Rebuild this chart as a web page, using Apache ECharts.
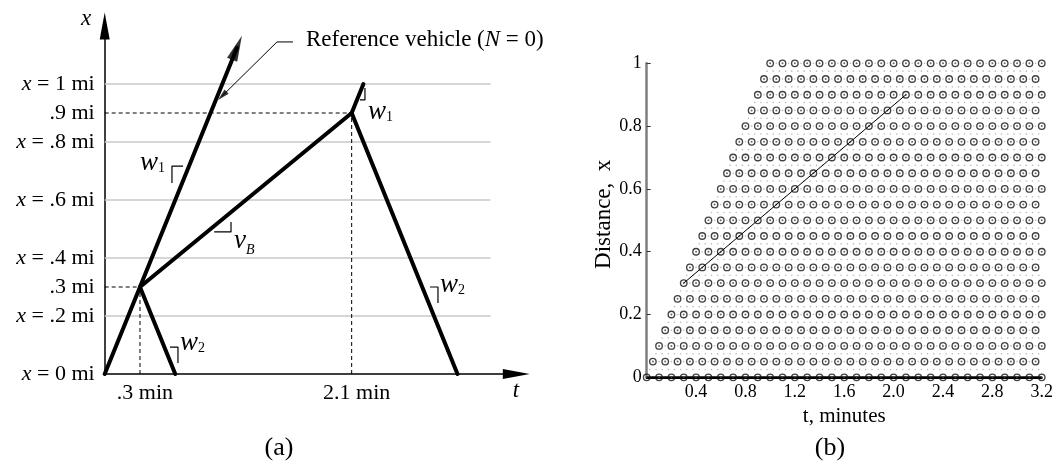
<!DOCTYPE html>
<html><head><meta charset="utf-8">
<script src="https://cdn.jsdelivr.net/npm/echarts@6/dist/echarts.min.js"></script>
<style>html,body{margin:0;padding:0;background:#fff}#c{width:1056px;height:463px}</style>
</head><body><div id="c"></div>
<script>
// ---------- Panel (a) data ----------
const aGridValues = [0.2, 0.4, 0.6, 0.8, 1.0];
const aGridEnd = 3.28;
const aYTickValues = [0, 0.2, 0.3, 0.4, 0.6, 0.8, 0.9, 1.0];
const aYTickLabels = ['x = 0 mi', 'x = .2 mi', '.3 mi', 'x = .4 mi', 'x = .6 mi', 'x = .8 mi', '.9 mi', 'x = 1 mi'];
const aXTickValues = [0.3, 2.1];
const aXTickLabels = ['.3 min', '2.1 min'];
const aRefVehicle = [[0, 0], [0.3, 0.3], [1.125, 1.125]];
const aRefArrow = [[1.125, 1.125]];
const aVB = [[0.3, 0.3], [2.1, 0.9]];
const aW1Top = [[2.1, 0.9], [2.2, 1.0]];
const aW2Right = [[2.1, 0.9], [3.0, 0]];
const aW2Left = [[0.3, 0.3], [0.6, 0]];
const aDashed = [
  [[0, 0.9], [2.1, 0.9]],
  [[2.1, 0], [2.1, 0.9]],
  [[0, 0.3], [0.3, 0.3]],
  [[0.3, 0], [0.3, 0.3]]
];
const aSlopeMarks = [
  [[0.666, 0.717], [0.572, 0.717], [0.572, 0.659]],
  [[0.931, 0.490], [1.074, 0.490], [1.074, 0.524]],
  [[0.555, 0.093], [0.623, 0.093], [0.623, 0.038]],
  [[2.213, 0.986], [2.213, 0.945], [2.171, 0.945]],
  [[2.766, 0.300], [2.834, 0.300], [2.834, 0.245]]
];
const aLeader = [[1.601, 1.145], [1.465, 1.145], [1.0, 0.959]];
const aLeaderArrow = [[1.0, 0.959]];

// ---------- Panel (b) data ----------
const bRowDistances = [0, 0.05, 0.1, 0.15, 0.2, 0.25, 0.3, 0.35, 0.4, 0.45, 0.5, 0.55, 0.6, 0.65, 0.7, 0.75, 0.8, 0.85, 0.9, 0.95, 1.0];
const bRowStart     = [0, 0.05, 0.1, 0.15, 0.2, 0.25, 0.3, 0.35, 0.4, 0.45, 0.5, 0.55, 0.6, 0.65, 0.7, 0.75, 0.8, 0.85, 0.9, 0.95, 1.0];
const bRowEnd       = [3.2, 3.15, 3.2, 3.15, 3.2, 3.15, 3.2, 3.15, 3.2, 3.15, 3.2, 3.15, 3.2, 3.15, 3.2, 3.15, 3.2, 3.15, 3.2, 3.15, 3.2];
const bTimeStep = 0.1;
const bPath = [[0.3, 0.3], [2.1, 0.9]];
const bBase = [[0, 0], [3.2, 0]];

// lattice of observation circles from the row tables
const bCircles = [];
const bRows = [];
bRowDistances.forEach((d, i) => {
  const n = Math.round((bRowEnd[i] - bRowStart[i]) / bTimeStep);
  const row = [];
  for (let k = 0; k <= n; k++) {
    const t = +(bRowStart[i] + k * bTimeStep).toFixed(3);
    row.push(t);
    bCircles.push([t, d]);
  }
  bRows.push(row);
});
// faint dotted links between neighbouring circles
const bDots = [];
bRows.forEach((row, i) => {
  const d = bRowDistances[i];
  row.forEach((t, k) => {
    if (k < row.length - 1) { bDots.push([t + 0.05, d]); }
    if (i < bRows.length - 1) {
      const up = bRows[i + 1];
      const dn = bRowDistances[i + 1] - d;
      if (up.some(u => Math.abs(u - (t + dn)) < 1e-6)) {
        bDots.push([t + dn / 2, d + dn / 2]);
      }
      if (up.some(u => Math.abs(u - (t - dn)) < 1e-6)) {
        bDots.push([t - dn / 2, d + dn / 2]);
      }
    }
  });
});

const FONT = 'Liberation Serif';
const chart = echarts.init(document.getElementById('c'), null, {renderer: 'canvas'});

function idxOf(arr, v) { return arr.findIndex(a => Math.abs(a - v) < 1e-6); }

const series = [];
aGridValues.forEach(v => series.push({
  type: 'line', xAxisIndex: 0, yAxisIndex: 0, data: [[0, v], [aGridEnd, v]],
  symbol: 'none', silent: true, z: 1, lineStyle: {color: '#c8c8c8', width: 1.5}
}));
aDashed.forEach(seg => series.push({
  type: 'line', xAxisIndex: 0, yAxisIndex: 0, data: seg, symbol: 'none', silent: true, z: 2,
  lineStyle: {color: '#000', width: 1, type: [4, 3]}
}));
[aRefVehicle, aVB, aW1Top, aW2Right, aW2Left].forEach(p => series.push({
  type: 'line', xAxisIndex: 0, yAxisIndex: 0, data: p, symbol: 'none', silent: true, z: 5,
  lineStyle: {color: '#000', width: 4, cap: 'round', join: 'round'}
}));
series.push({
  type: 'scatter', xAxisIndex: 0, yAxisIndex: 0, data: aRefArrow, symbol: 'triangle',
  symbolSize: [11, 26], symbolRotate: -22.1, itemStyle: {color: '#000'}, silent: true, z: 6
});
aSlopeMarks.forEach(p => series.push({
  type: 'line', xAxisIndex: 0, yAxisIndex: 0, data: p, symbol: 'none', silent: true, z: 4,
  lineStyle: {color: '#000', width: 1.2}
}));
series.push({
  type: 'line', xAxisIndex: 0, yAxisIndex: 0, data: aLeader, symbol: 'none', silent: true, z: 4,
  lineStyle: {color: '#000', width: 1}
});
series.push({
  type: 'scatter', xAxisIndex: 0, yAxisIndex: 0, data: aLeaderArrow, symbol: 'triangle',
  symbolSize: [6, 12], symbolRotate: 134.6, itemStyle: {color: '#000'}, silent: true, z: 6
});
// panel b
series.push({
  type: 'scatter', xAxisIndex: 1, yAxisIndex: 1, data: bDots, symbol: 'circle', symbolSize: 1.6,
  itemStyle: {color: '#a8a8a8'}, silent: true, clip: false, z: 2,
  large: false, progressive: 0, progressiveThreshold: 100000
});
series.push({
  type: 'line', xAxisIndex: 1, yAxisIndex: 1, data: bBase, symbol: 'none', silent: true, z: 3,
  lineStyle: {color: '#000', width: 2}
});
series.push({
  type: 'scatter', xAxisIndex: 1, yAxisIndex: 1, data: bCircles, symbol: 'circle', symbolSize: 6.5,
  itemStyle: {color: 'rgba(255,255,255,0)', borderColor: '#111', borderWidth: 1.35}, silent: true, clip: false, z: 4,
  large: false, progressive: 0, progressiveThreshold: 100000
});
series.push({
  type: 'scatter', xAxisIndex: 1, yAxisIndex: 1, data: bCircles, symbol: 'circle', symbolSize: 2,
  itemStyle: {color: '#444'}, silent: true, clip: false, z: 5,
  large: false, progressive: 0, progressiveThreshold: 100000
});
series.push({
  type: 'line', xAxisIndex: 1, yAxisIndex: 1, data: bPath, symbol: 'none', silent: true, z: 6,
  lineStyle: {color: '#000', width: 1}
});

const richA = {
  i: {fontFamily: FONT, fontSize: 22, fontStyle: 'italic', color: '#000'},
  n: {fontFamily: FONT, fontSize: 22, color: '#000'}
};

const option = {
  animation: false,
  backgroundColor: '#fff',
  grid: [
    {left: 104.7, top: 26, width: 411.6, height: 348},
    {left: 646.7, top: 63.3, width: 398.3, height: 314}
  ],
  xAxis: [
    {
      type: 'value', gridIndex: 0, min: 0, max: 3.5, interval: 0.3,
      splitLine: {show: false}, axisTick: {show: false},
      axisLine: {lineStyle: {color: '#000', width: 1.5}, symbol: ['none', 'triangle'], symbolSize: [10, 27]},
      axisLabel: {
        margin: 8, padding: [0, 0, 0, 10], showMinLabel: true, showMaxLabel: true,
        formatter: v => { const k = idxOf(aXTickValues, v); return k < 0 ? '' : '{n|' + aXTickLabels[k] + '}'; },
        rich: richA
      }
    },
    {
      type: 'value', gridIndex: 1, min: 0, max: 3.2, interval: 0.4,
      splitLine: {show: false}, axisTick: {show: false},
      axisLine: {lineStyle: {color: '#000', width: 2}},
      axisLabel: {
        margin: 6, color: '#000', fontFamily: FONT, fontSize: 18,
        formatter: v => v === 0 ? '' : v.toFixed(1)
      },
      name: 't, minutes', nameLocation: 'middle', nameGap: 22,
      nameTextStyle: {fontFamily: FONT, fontSize: 21, color: '#000'}
    }
  ],
  yAxis: [
    {
      type: 'value', gridIndex: 0, min: 0, max: 1.2, interval: 0.1,
      splitLine: {show: false}, axisTick: {show: false},
      axisLine: {lineStyle: {color: '#000', width: 1.5}, symbol: ['none', 'triangle'], symbolSize: [10, 27]},
      axisLabel: {
        margin: 10, showMinLabel: true,
        formatter: v => {
          const k = idxOf(aYTickValues, v);
          if (k < 0) return '';
          const s = aYTickLabels[k];
          return s.charAt(0) === 'x' ? '{i|x}{n|' + s.slice(1) + '}' : '{n|' + s + '}';
        },
        rich: richA
      }
    },
    {
      type: 'value', gridIndex: 1, min: 0, max: 1, interval: 0.2,
      splitLine: {show: false},
      axisLine: {lineStyle: {color: '#7f7f7f', width: 2.5}},
      axisTick: {inside: true, length: 4, lineStyle: {color: '#333', width: 1}},
      axisLabel: {
        margin: 5, color: '#000', fontFamily: FONT, fontSize: 18,
        formatter: v => (v === 0 || v === 1) ? String(v) : v.toFixed(1)
      },
      name: 'Distance,  x', nameLocation: 'middle', nameGap: 29,
      nameTextStyle: {fontFamily: FONT, fontSize: 23, color: '#000', padding: [0, 0, 0, 12]}
    }
  ],
  graphic: [
    {type: 'text', x: 86, y: 19, style: {text: 'x', fontFamily: FONT, fontSize: 23, fontStyle: 'italic', fill: '#000', align: 'center', verticalAlign: 'middle'}},
    {type: 'text', x: 516, y: 391, style: {text: 't', fontFamily: FONT, fontSize: 23, fontStyle: 'italic', fill: '#000', align: 'center', verticalAlign: 'middle'}},
    {type: 'text', x: 306, y: 40, style: {
      text: '{n|Reference vehicle (}{i|N}{n| = 0)}', align: 'left', verticalAlign: 'middle',
      rich: {n: {fontFamily: FONT, fontSize: 23, fill: '#000'}, i: {fontFamily: FONT, fontSize: 23, fontStyle: 'italic', fill: '#000'}}
    }},
    ...[
      [140, 163, 'w', '1'], [234, 241, 'v', 'B'], [180, 343, 'w', '2'], [368, 112, 'w', '1'], [440, 285, 'w', '2']
    ].map(([x, y, m, s]) => ({
      type: 'text', x: x, y: y, style: {
        text: '{m|' + m + '}{s|' + s + '}', align: 'left', verticalAlign: 'middle',
        rich: {
          m: {fontFamily: FONT, fontSize: 27, fontStyle: 'italic', fill: '#000', verticalAlign: 'bottom'},
          s: {fontFamily: FONT, fontSize: 14, fontStyle: s === 'B' ? 'italic' : 'normal', fill: '#000', verticalAlign: 'bottom', padding: [0, 0, s === 'B' ? -3 : 1, 0]}
        }
      }
    })),
    {type: 'text', x: 279, y: 448, style: {text: '(a)', fontFamily: FONT, fontSize: 26, fill: '#000', align: 'center', verticalAlign: 'middle'}},
    {type: 'text', x: 830, y: 448, style: {text: '(b)', fontFamily: FONT, fontSize: 26, fill: '#000', align: 'center', verticalAlign: 'middle'}}
  ],
  series: series
};
chart.setOption(option);
</script></body></html>
